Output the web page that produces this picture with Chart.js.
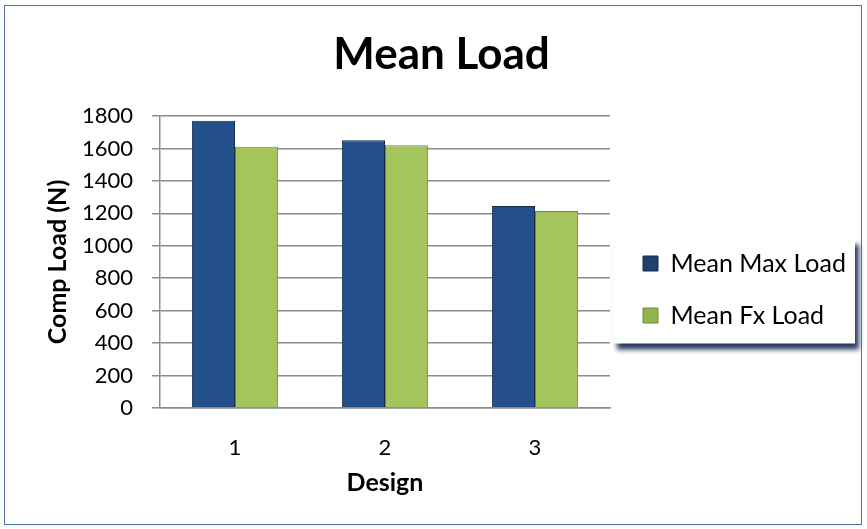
<!DOCTYPE html>
<html>
<head>
<meta charset="utf-8">
<script src="https://cdn.jsdelivr.net/npm/chart.js@4"></script>
<style>
  html, body { margin: 0; padding: 0; background: #fff; }
  #wrap { position: relative; width: 867px; height: 529px; }
  #frame { position: absolute; left: 4px; top: 5px; width: 856px; height: 518px; border: 1.5px solid #4f6fa8; pointer-events: none; }
</style>
</head>
<body>
<div id="wrap">
  <canvas id="chart" width="867" height="529"></canvas>
  <div id="frame"></div>
</div>
<script>
// values
const designs = ['1', '2', '3'];
const meanMaxLoad = [1770, 1650, 1245];
const meanFxLoad = [1610, 1620, 1215];
const seriesNames = ['Mean Max Load', 'Mean Fx Load'];

const FONT = "Lato, 'Open Sans', sans-serif";
const LEGEND_WIDTH = 257;  // room kept on the right for the legend
const LEGEND_SHIFT_X = 6;
const LEGEND_SHIFT_Y = 20; // legend sits a bit lower than Chart.js centres it

// bevel-ish look: darker at the bar edges, lighter in the middle
function barFill(edge, mid) {
  return function(context) {
    const el = context.element;
    if (!el || !el.width || !isFinite(el.x)) return mid;
    const x0 = el.x - el.width / 2;
    const x1 = el.x + el.width / 2;
    const g = context.chart.ctx.createLinearGradient(x0, 0, x1, 0);
    g.addColorStop(0, edge);
    g.addColorStop(0.22, mid);
    g.addColorStop(0.78, mid);
    g.addColorStop(1, edge);
    return g;
  };
}

// legend: fixed width, nudged into place, white box with a dark shadow
const legendBox = {
  id: 'legendBox',
  afterInit(chart) {
    const lg = chart.legend;
    if (!lg) return;
    const fit = lg.fit;
    lg.fit = function() {
      fit.call(this);
      if (!this.isHorizontal()) this.width = LEGEND_WIDTH;
    };
  },
  afterLayout(chart) {
    const lg = chart.legend;
    if (!lg) return;
    lg.left += LEGEND_SHIFT_X;
    lg.right += LEGEND_SHIFT_X;
    lg.top += LEGEND_SHIFT_Y;
    lg.bottom += LEGEND_SHIFT_Y;
  },
  beforeDraw(chart) {
    const lg = chart.legend;
    if (!lg || !lg.legendHitBoxes || !lg.legendHitBoxes.length) return;
    const hb = lg.legendHitBoxes;
    const left = Math.min(...hb.map(b => b.left)) - 30;
    const right = left + 242;
    const top = Math.min(...hb.map(b => b.top + b.height / 2)) - 26;
    const bottom = Math.max(...hb.map(b => b.top + b.height / 2)) + 28;
    const ctx = chart.ctx;
    ctx.save();
    ctx.shadowColor = 'rgba(25, 45, 85, 0.95)';
    ctx.shadowBlur = 5;
    ctx.shadowOffsetX = 4;
    ctx.shadowOffsetY = 6;
    ctx.fillStyle = '#ffffff';
    ctx.fillRect(left, top, right - left, bottom - top);
    ctx.restore();
  }
};

new Chart(document.getElementById('chart'), {
  type: 'bar',
  data: {
    labels: designs,
    datasets: [
      {
        label: seriesNames[0],
        data: meanMaxLoad,
        backgroundColor: barFill('#17365d', '#234f8a'),
        borderColor: '#142c4c',
        borderWidth: 1,
        categoryPercentage: 0.575,
        barPercentage: 1.0
      },
      {
        label: seriesNames[1],
        data: meanFxLoad,
        backgroundColor: barFill('#7d9a3c', '#a3c55c'),
        borderColor: '#6f8a34',
        borderWidth: 1,
        categoryPercentage: 0.575,
        barPercentage: 1.0
      }
    ]
  },
  options: {
    responsive: false,
    animation: false,
    layout: { padding: { top: 10, left: 16, right: 0, bottom: 0 } },
    plugins: {
      title: {
        display: true,
        text: 'Mean Load',
        color: '#000',
        font: { family: FONT, size: 44, weight: 'bold' },
        padding: { top: 18.6, bottom: 34.6 }
      },
      legend: {
        position: 'right',
        labels: {
          color: '#000',
          font: { family: FONT, size: 25 },
          boxWidth: 15,
          boxHeight: 15,
          padding: 27,
          generateLabels(chart) {
            return chart.data.datasets.map((ds, i) => ({
              text: ds.label,
              fillStyle: i === 0 ? '#1f416f' : '#93b450',
              strokeStyle: ds.borderColor,
              lineWidth: 1,
              hidden: !chart.isDatasetVisible(i),
              datasetIndex: i
            }));
          }
        }
      },
      tooltip: { enabled: false }
    },
    scales: {
      x: {
        grid: { display: false },
        border: { display: true, color: '#8c8c8c', width: 1.5 },
        ticks: { color: '#000', font: { family: FONT, size: 22 }, padding: 19 },
        title: {
          display: true,
          text: 'Design',
          color: '#000',
          font: { family: FONT, size: 25, weight: 'bold' },
          padding: { top: 10, bottom: 31 }
        },
        afterFit(scale) { scale.height = 121; }
      },
      y: {
        min: 0,
        max: 1800,
        ticks: {
          stepSize: 200,
          color: '#000',
          font: { family: FONT, size: 22 },
          padding: 19,
          callback: (v) => String(v)
        },
        grid: { color: '#8c8c8c', lineWidth: 1.5, tickLength: 8 },
        border: { display: true, color: '#8c8c8c', width: 1.5 },
        title: {
          display: true,
          text: 'Comp Load (N)',
          color: '#000',
          font: { family: FONT, size: 25, weight: 'bold' },
          padding: { top: 27, bottom: 0 }
        },
        afterFit(scale) { scale.width = 144; }
      }
    }
  },
  plugins: [legendBox]
});
</script>
</body>
</html>
